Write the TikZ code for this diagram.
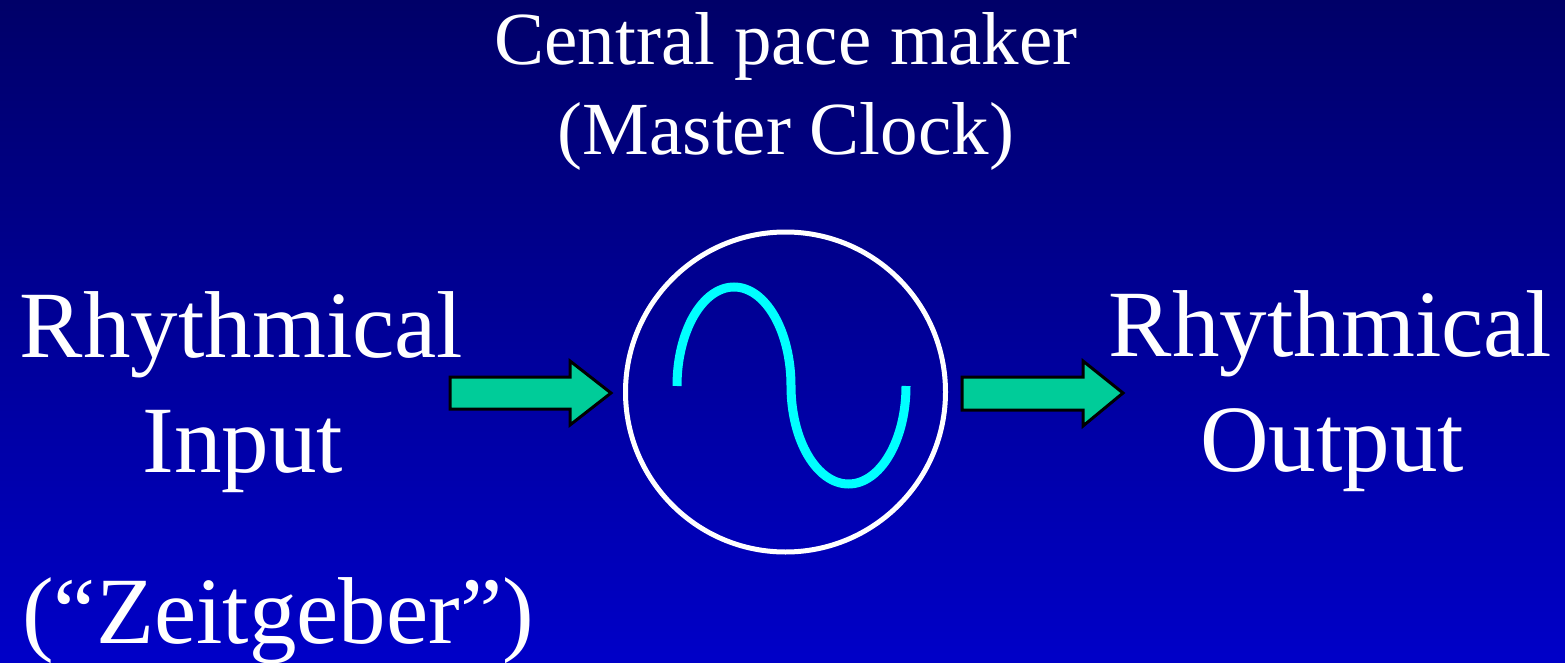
\documentclass[tikz,border=0pt]{standalone}
\usepackage{fontspec}
\setmainfont{Liberation Serif}
\definecolor{bgtop}{RGB}{0,0,104}
\definecolor{bgbot}{RGB}{0,0,200}
\definecolor{arrowfill}{RGB}{0,204,153}
\definecolor{wave}{RGB}{0,255,255}
\tikzset{
  bigtext/.style={text=white, inner sep=0pt, anchor=base, font=\fontsize{95}{114}\selectfont},
  toptext/.style={text=white, inner sep=0pt, anchor=base, font=\fontsize{75}{90}\selectfont},
  blockarrow/.style={fill=arrowfill, draw=black, line width=3pt, line join=miter},
  clockring/.style={circle, draw=white, line width=5pt, minimum size=320pt, inner sep=0pt},
  wavestroke/.style={draw=wave, line width=9pt, line cap=butt}
}
\begin{document}
\begin{tikzpicture}[x=1pt,y=-1pt]
\useasboundingbox (0,0) rectangle (1565,663);
\fill[top color=bgtop, bottom color=bgbot] (0,0) rectangle (1565,663);

% title
\node[toptext] (title1) at (786,65) {Central pace maker};
\node[toptext] (title2) at (786,155) {(Master Clock)};

% left labels
\node[bigtext] (in1) at (241.5,357) {Rhythmical};
\node[bigtext] (in2) at (243,472) {Input};
\node[bigtext] (zeit) at (278,643) {(“Zeitgeber”)};

% right labels
\node[bigtext] (out1) at (1330.5,356) {Rhythmical};
\node[bigtext] (out2) at (1332,471) {Output};

% clock
\node[clockring] (clock) at (785.5,392) {};

% wave
\draw[wavestroke] (677,386) .. controls (677,331.3) and (702.5,287) .. (734,287)
  .. controls (765.5,287) and (791,331.3) .. (791,386)
  .. controls (791,440.1) and (816.7,484) .. (848.5,484)
  .. controls (880.3,484) and (906,440.1) .. (906,386);

% arrows
\draw[blockarrow] (450,377) -- (570,377) -- (570,361) -- (611,393) -- (570,425) -- (570,409) -- (450,409) -- cycle;
\draw[blockarrow] (962,377) -- (1083,377) -- (1083,361) -- (1123,393) -- (1083,426) -- (1083,410) -- (962,410) -- cycle;
\end{tikzpicture}
\end{document}
